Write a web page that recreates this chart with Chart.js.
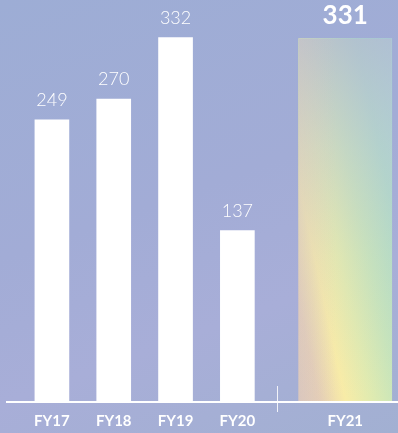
<!DOCTYPE html>
<html>
<head>
<meta charset="utf-8">
<title>Revenue by fiscal year</title>
<script src="https://cdn.jsdelivr.net/npm/chart.js@4/dist/chart.umd.min.js"></script>
<style>
    html, body {
        margin: 0;
        padding: 0;
        width: 398px;
        height: 433px;
        overflow: hidden;
        background: linear-gradient(160deg, #9dadd5 0%, #a2acd6 45%, #a8aed8 70%, #a2b0d2 100%);
    }
    /* canvas runs past the right edge so the wide FY21 column sits flush */
    canvas { display: block; }
</style>
</head>
<body>
<canvas id="revenueChart" width="439" height="433"></canvas>
<script>
// Past years (white columns)
const categories = ['FY17', 'FY18', 'FY19', 'FY20'];
const revenue = [249, 270, 332, 137];

// Current year (highlighted column)
const currentCategory = ['FY21'];
const currentRevenue = [331];

// Value axis range; columns grow up from the bottom of the range
const yMin = -35;
const yMax = 370;

const FONT = 'Lato, "Open Sans", sans-serif';

// Iridescent fill for the FY21 column, laid out across the bar's box
function rainbowFill(context) {
    const chart = context.chart;
    const xs = chart.scales.x2;
    const ys = chart.scales.y;
    if (!xs || !ys) return '#cfe3c0';
    const w = 93;
    const left = xs.getPixelForValue(0) - w / 2;
    const bottom = ys.getPixelForValue(yMin);
    if (!Number.isFinite(left) || !Number.isFinite(bottom)) return '#cfe3c0';
    const g = chart.ctx.createLinearGradient(left, bottom, left + 1.79 * w, bottom - 0.39 * w);
    g.addColorStop(0, '#e2cbb8');
    g.addColorStop(0.12, '#e8d0b4');
    g.addColorStop(0.27, '#f8eca7');
    g.addColorStop(0.42, '#e0ebb0');
    g.addColorStop(0.58, '#c6e5bb');
    g.addColorStop(0.78, '#acdcc9');
    g.addColorStop(1, '#a6d6d6');
    return g;
}

// Lavender haze over the top of the FY21 column
const hazePlugin = {
    id: 'haze',
    afterDatasetsDraw(chart) {
        const bar = chart.getDatasetMeta(1).data[0];
        if (!bar) return;
        const { x, y, base, width } = bar.getProps(['x', 'y', 'base', 'width'], true);
        const ctx = chart.ctx;
        const left = x - width / 2;
        ctx.save();
        const v = ctx.createLinearGradient(0, y, 0, base);
        v.addColorStop(0, 'rgba(180, 180, 210, 0.65)');
        v.addColorStop(0.3, 'rgba(192, 188, 212, 0.35)');
        v.addColorStop(0.6, 'rgba(205, 192, 205, 0.12)');
        v.addColorStop(1, 'rgba(205, 192, 205, 0)');
        ctx.fillStyle = v;
        ctx.fillRect(left, y, width, base - y);
        // soften the left edge
        const h = ctx.createLinearGradient(left, 0, left + width, 0);
        h.addColorStop(0, 'rgba(200, 190, 205, 0.3)');
        h.addColorStop(0.4, 'rgba(200, 190, 205, 0)');
        ctx.fillStyle = h;
        ctx.fillRect(left, y, width, base - y);
        ctx.restore();
    }
};

// Numbers above each column
const valueLabelPlugin = {
    id: 'valueLabels',
    afterDatasetsDraw(chart) {
        const ctx = chart.ctx;
        ctx.save();
        ctx.fillStyle = '#ffffff';
        ctx.textAlign = 'center';
        ctx.textBaseline = 'alphabetic';

        chart.getDatasetMeta(0).data.forEach((bar, i) => {
            ctx.font = '300 18px ' + FONT;
            ctx.fillText(String(revenue[i]), bar.x, bar.y - 14);
        });
        chart.getDatasetMeta(1).data.forEach((bar, i) => {
            ctx.font = 'bold 26px ' + FONT;
            ctx.fillText(String(currentRevenue[i]), bar.x, bar.y - 15);
        });
        ctx.restore();
    }
};

// Baseline under the columns and the small divider before FY21
const baselinePlugin = {
    id: 'baseline',
    afterDatasetsDraw(chart) {
        const ctx = chart.ctx;
        const bottom = chart.scales.y.bottom;
        ctx.save();
        ctx.strokeStyle = '#ffffff';
        ctx.lineWidth = 2;
        ctx.beginPath();
        ctx.moveTo(6, bottom + 1);
        ctx.lineTo(chart.width, bottom + 1);
        ctx.stroke();

        const past = chart.getDatasetMeta(0).data;
        const lastPast = past[past.length - 1];
        const cur = chart.getDatasetMeta(1).data[0];
        if (lastPast && cur) {
            const dx = Math.round(((lastPast.x + lastPast.width / 2) + (cur.x - cur.width / 2)) / 2) + 0.5;
            ctx.lineWidth = 1;
            ctx.strokeStyle = 'rgba(255, 255, 255, 0.85)';
            ctx.beginPath();
            ctx.moveTo(dx, bottom - 15);
            ctx.lineTo(dx, bottom + 11);
            ctx.stroke();
        }
        ctx.restore();
    }
};

const tickStyle = {
    color: '#ffffff',
    padding: 13,
    maxRotation: 0,
    minRotation: 0,
    autoSkip: false,
    font: { family: FONT, size: 15, weight: 'bold', lineHeight: 1 }
};

const ctx = document.getElementById('revenueChart').getContext('2d');

new Chart(ctx, {
    type: 'bar',
    data: {
        datasets: [
            {
                data: revenue,
                xAxisID: 'x',
                backgroundColor: '#ffffff',
                borderWidth: 0,
                grouped: false,
                barThickness: 34,
                base: yMin
            },
            {
                data: currentRevenue,
                xAxisID: 'x2',
                backgroundColor: rainbowFill,
                borderWidth: 0,
                grouped: false,
                barThickness: 93,
                base: yMin
            }
        ]
    },
    options: {
        responsive: false,
        animation: false,
        // the tick row is taller than the space below the baseline, so let it run off the bottom
        layout: {
            padding: { left: 21, right: 0, top: 0, bottom: -9 }
        },
        plugins: {
            legend: { display: false },
            tooltip: { enabled: false }
        },
        scales: {
            x: {
                type: 'category',
                labels: categories,
                position: 'bottom',
                stack: 'years',
                stackWeight: 249,
                offset: true,
                grid: { display: false, drawTicks: false },
                border: { display: false },
                ticks: tickStyle
            },
            x2: {
                type: 'category',
                labels: currentCategory,
                position: 'bottom',
                stack: 'years',
                stackWeight: 155,
                offset: true,
                grid: { display: false, drawTicks: false },
                border: { display: false },
                ticks: tickStyle
            },
            y: {
                display: false,
                min: yMin,
                max: yMax
            }
        }
    },
    plugins: [hazePlugin, valueLabelPlugin, baselinePlugin]
});
</script>
</body>
</html>
